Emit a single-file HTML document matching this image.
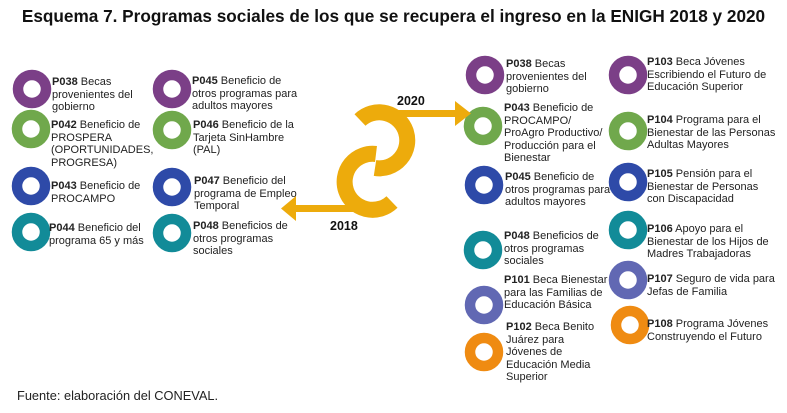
<!DOCTYPE html>
<html><head><meta charset="utf-8"><style>
body{margin:0;width:787px;height:413px;background:#fff;position:relative;overflow:hidden;font-family:"Liberation Sans",sans-serif;color:#222}
.t{position:absolute;font-size:11px;line-height:12.6px}
.t b{font-weight:bold}
h1{position:absolute;left:0;top:6px;width:787px;text-align:center;margin:0;font-size:17.2px;font-weight:bold;color:#111}
.f{position:absolute;left:17px;top:388px;font-size:12.8px}
</style></head><body>
<h1>Esquema 7. Programas sociales de los que se recupera el ingreso en la ENIGH 2018 y 2020</h1>
<svg width="787" height="413" style="position:absolute;left:0;top:0">
<g fill="none" stroke-width="10.5">
<circle cx="32" cy="89" r="14" stroke="#7b3f87"/>
<circle cx="31" cy="129" r="14" stroke="#70a84c"/>
<circle cx="31" cy="186" r="14" stroke="#2e4aa8"/>
<circle cx="31" cy="232" r="14" stroke="#128b98"/>
<circle cx="172" cy="89" r="14" stroke="#7b3f87"/>
<circle cx="172" cy="130" r="14" stroke="#70a84c"/>
<circle cx="172" cy="187" r="14" stroke="#2e4aa8"/>
<circle cx="172" cy="233" r="14" stroke="#128b98"/>
<circle cx="485" cy="75" r="14" stroke="#7b3f87"/>
<circle cx="483" cy="126" r="14" stroke="#70a84c"/>
<circle cx="484" cy="185" r="14" stroke="#2e4aa8"/>
<circle cx="483" cy="250" r="14" stroke="#128b98"/>
<circle cx="484" cy="305" r="14" stroke="#6168b3"/>
<circle cx="484" cy="352" r="14" stroke="#ef8b12"/>
<circle cx="628" cy="75" r="14" stroke="#7b3f87"/>
<circle cx="628" cy="131" r="14" stroke="#70a84c"/>
<circle cx="628" cy="182" r="14" stroke="#2e4aa8"/>
<circle cx="628" cy="230" r="14" stroke="#128b98"/>
<circle cx="628" cy="280" r="14" stroke="#6168b3"/>
<circle cx="630" cy="325" r="14" stroke="#ef8b12"/>
</g>
<g stroke="#edab0c" fill="none" stroke-width="16">
<path d="M360 120 A28 28 0 1 1 375 168"/>
<path d="M376 154 A28 28 0 1 0 392 202"/>
</g>
<g fill="#edab0c">
<rect x="398" y="110" width="60" height="7"/>
<polygon points="455,101 471,113.5 455,126"/>
<rect x="293" y="205" width="62" height="7"/>
<polygon points="296,196 281,208.5 296,221"/>
</g>
<text x="397" y="105" font-family="Liberation Sans" font-weight="bold" font-size="12.5" fill="#111">2020</text>
<text x="330" y="230" font-family="Liberation Sans" font-weight="bold" font-size="12.5" fill="#111">2018</text>
</svg>
<div class="t" style="left:52px;top:76px"><b>P038</b> Becas<br>provenientes del<br>gobierno</div>
<div class="t" style="left:51px;top:119px"><b>P042</b> Beneficio de<br>PROSPERA<br>(OPORTUNIDADES,<br>PROGRESA)</div>
<div class="t" style="left:51px;top:180px"><b>P043</b> Beneficio de<br>PROCAMPO</div>
<div class="t" style="left:49px;top:222px"><b>P044</b> Beneficio del<br>programa 65 y más</div>
<div class="t" style="left:192px;top:75px"><b>P045</b> Beneficio de<br>otros programas para<br>adultos mayores</div>
<div class="t" style="left:193px;top:119px"><b>P046</b> Beneficio de la<br>Tarjeta SinHambre<br>(PAL)</div>
<div class="t" style="left:194px;top:175px"><b>P047</b> Beneficio del<br>programa de Empleo<br>Temporal</div>
<div class="t" style="left:193px;top:220px"><b>P048</b> Beneficios de<br>otros programas<br>sociales</div>
<div class="t" style="left:506px;top:58px"><b>P038</b> Becas<br>provenientes del<br>gobierno</div>
<div class="t" style="left:504px;top:102px"><b>P043</b> Beneficio de<br>PROCAMPO/<br>ProAgro Productivo/<br>Producción para el<br>Bienestar</div>
<div class="t" style="left:505px;top:171px"><b>P045</b> Beneficio de<br>otros programas para<br>adultos mayores</div>
<div class="t" style="left:504px;top:230px"><b>P048</b> Beneficios de<br>otros programas<br>sociales</div>
<div class="t" style="left:504px;top:274px"><b>P101</b> Beca Bienestar<br>para las Familias de<br>Educación Básica</div>
<div class="t" style="left:506px;top:321px"><b>P102</b> Beca Benito<br>Juárez para<br>Jóvenes de<br>Educación Media<br>Superior</div>
<div class="t" style="left:647px;top:56px"><b>P103</b> Beca Jóvenes<br>Escribiendo el Futuro de<br>Educación Superior</div>
<div class="t" style="left:647px;top:114px"><b>P104</b> Programa para el<br>Bienestar de las Personas<br>Adultas Mayores</div>
<div class="t" style="left:647px;top:168px"><b>P105</b> Pensión para el<br>Bienestar de Personas<br>con Discapacidad</div>
<div class="t" style="left:647px;top:223px"><b>P106</b> Apoyo para el<br>Bienestar de los Hijos de<br>Madres Trabajadoras</div>
<div class="t" style="left:647px;top:273px"><b>P107</b> Seguro de vida para<br>Jefas de Familia</div>
<div class="t" style="left:647px;top:318px"><b>P108</b> Programa Jóvenes<br>Construyendo el Futuro</div>
<div class="f">Fuente: elaboración del CONEVAL.</div>
</body></html>
